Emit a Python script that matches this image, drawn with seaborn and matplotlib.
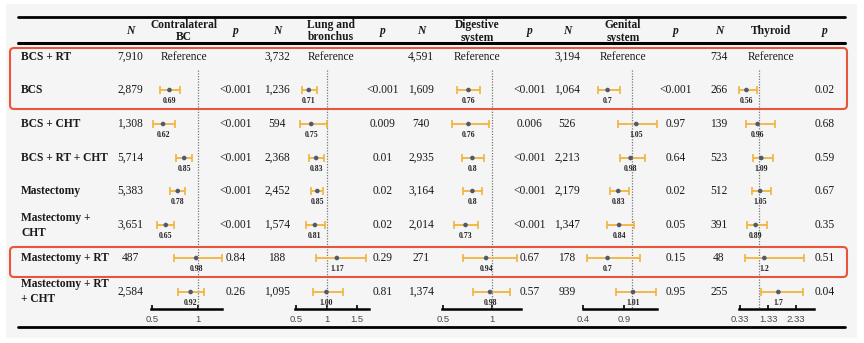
import matplotlib
matplotlib.use("Agg")
import matplotlib.pyplot as plt
import seaborn as sns
import numpy as np
import pandas as pd
from matplotlib.patches import FancyBboxPatch, Rectangle

# ---------------- data ----------------
row_labels = ["BCS + RT", "BCS", "BCS + CHT", "BCS + RT + CHT", "Mastectomy",
              "Mastectomy +\nCHT", "Mastectomy + RT", "Mastectomy + RT\n+ CHT"]
outcomes = ["Contralateral\nBC", "Lung and\nbronchus", "Digestive\nsystem",
            "Genital\nsystem", "Thyroid"]

n_cbc = ["7,910", "2,879", "1,308", "5,714", "5,383", "3,651", "487", "2,584"]
n_lung = ["3,732", "1,236", "594", "2,368", "2,452", "1,574", "188", "1,095"]
n_dig = ["4,591", "1,609", "740", "2,935", "3,164", "2,014", "271", "1,374"]
n_gen = ["3,194", "1,064", "526", "2,213", "2,179", "1,347", "178", "939"]
n_thy = ["734", "266", "139", "523", "512", "391", "48", "255"]

p_cbc = ["", "<0.001", "<0.001", "<0.001", "<0.001", "<0.001", "0.84", "0.26"]
p_lung = ["", "<0.001", "0.009", "0.01", "0.02", "0.02", "0.29", "0.81"]
p_dig = ["", "<0.001", "0.006", "<0.001", "<0.001", "<0.001", "0.67", "0.57"]
p_gen = ["", "<0.001", "0.97", "0.64", "0.02", "0.05", "0.15", "0.95"]
p_thy = ["", "0.02", "0.68", "0.59", "0.67", "0.35", "0.51", "0.04"]

# hazard ratios for rows 2..8 (row 1 is the reference)
hr_cbc = [0.69, 0.62, 0.85, 0.78, 0.65, 0.98, 0.92]
lo_cbc = [0.59, 0.51, 0.76, 0.70, 0.55, 0.74, 0.78]
hi_cbc = [0.80, 0.75, 0.93, 0.86, 0.74, 1.26, 1.07]
lab_cbc = ["0.69", "0.62", "0.85", "0.78", "0.65", "0.98", "0.92"]

hr_lung = [0.71, 0.75, 0.83, 0.85, 0.81, 1.17, 1.00]
lo_lung = [0.60, 0.57, 0.71, 0.74, 0.66, 0.83, 0.78]
hi_lung = [0.84, 1.01, 0.96, 0.94, 0.97, 1.65, 1.27]
lab_lung = ["0.71", "0.75", "0.83", "0.85", "0.81", "1.17", "1.00"]

hr_dig = [0.76, 0.76, 0.80, 0.80, 0.73, 0.94, 0.98]
lo_dig = [0.64, 0.59, 0.69, 0.70, 0.61, 0.70, 0.81]
hi_dig = [0.88, 0.97, 0.92, 0.90, 0.86, 1.26, 1.18]
lab_dig = ["0.76", "0.76", "0.8", "0.8", "0.73", "0.94", "0.98"]

hr_gen = [0.70, 1.05, 0.98, 0.83, 0.84, 0.70, 1.01]
lo_gen = [0.58, 0.83, 0.85, 0.73, 0.69, 0.45, 0.80]
hi_gen = [0.85, 1.30, 1.16, 0.96, 1.02, 1.10, 1.29]
lab_gen = ["0.7", "1.05", "0.98", "0.83", "0.84", "0.7", "1.01"]

hr_thy = [0.56, 0.96, 1.09, 1.05, 0.89, 1.20, 1.70]
lo_thy = [0.30, 0.54, 0.79, 0.76, 0.58, 0.51, 1.08]
hi_thy = [0.94, 1.58, 1.51, 1.44, 1.29, 2.62, 2.58]
lab_thy = ["0.56", "0.96", "1.09", "1.05", "0.89", "1.2", "1.7"]

ticks_cbc = [0.5, 1]; ticklab_cbc = ["0.5", "1"]
ticks_lung = [0.5, 1, 1.5]; ticklab_lung = ["0.5", "1", "1.5"]
ticks_dig = [0.5, 1]; ticklab_dig = ["0.5", "1"]
ticks_gen = [0.4, 0.9]; ticklab_gen = ["0.4", "0.9"]
ticks_thy = [0.33, 1.33, 2.33]; ticklab_thy = ["0.33", "1.33", "2.33"]
bounds_cbc = (0.49, 1.26)
bounds_lung = (0.48, 1.70)
bounds_dig = (0.49, 1.30)
bounds_gen = (0.40, 1.30)
bounds_thy = (0.31, 2.97)
ref_value = 1.0

# ---------------- style / layout ----------------
sns.set_theme(style="white")
plt.rcParams["font.family"] = ["Liberation Serif", "DejaVu Serif"]

W, H = 864, 343
fig = plt.figure(figsize=(W / 100, H / 100), dpi=100, facecolor="white")
ax0 = fig.add_axes([0, 0, 1, 1])
ax0.set_xlim(0, W)
ax0.set_ylim(H, 0)
ax0.axis("off")

ax0.add_patch(Rectangle((6, 4), 851, 334, facecolor="#f5f5f5", edgecolor="none", zorder=0))

FS = 8.3
DARK = "#1a1a1a"
row_y = [57, 90, 124, 158, 191, 225, 258, 292]

# table rules
ax0.plot([18, 845], [17, 17], color="black", lw=2.0, zorder=2)
ax0.plot([18, 845], [43, 43], color="black", lw=2.2, zorder=2)
ax0.plot([18, 845], [327, 327], color="black", lw=2.0, zorder=2)

# red highlight boxes
for (y0, y1) in [(48, 109), (247, 277)]:
    ax0.add_patch(FancyBboxPatch((10, y0), 837, y1 - y0,
                                 boxstyle="round,pad=0,rounding_size=4",
                                 facecolor="none", edgecolor="#e8553a", lw=1.5, zorder=4))

# row labels
for lab, y in zip(row_labels, row_y):
    lines = lab.split("\n")
    if len(lines) == 1:
        ax0.text(21, y, lab, ha="left", va="center", fontsize=FS, fontweight="bold", color=DARK)
    else:
        ax0.text(21, y - 7.5, lines[0], ha="left", va="center", fontsize=FS, fontweight="bold", color=DARK)
        ax0.text(21, y + 7.5, lines[1], ha="left", va="center", fontsize=FS, fontweight="bold", color=DARK)

columns = [
    dict(n=n_cbc, p=p_cbc, hr=hr_cbc, lo=lo_cbc, hi=hi_cbc, lab=lab_cbc, ticks=ticks_cbc,
         tl=ticklab_cbc, b=bounds_cbc, nx=130, fx=184, px=236, map=(152, 0.5, 198, 1.0)),
    dict(n=n_lung, p=p_lung, hr=hr_lung, lo=lo_lung, hi=hi_lung, lab=lab_lung, ticks=ticks_lung,
         tl=ticklab_lung, b=bounds_lung, nx=277, fx=331, px=383, map=(296, 0.5, 357, 1.5)),
    dict(n=n_dig, p=p_dig, hr=hr_dig, lo=lo_dig, hi=hi_dig, lab=lab_dig, ticks=ticks_dig,
         tl=ticklab_dig, b=bounds_dig, nx=421, fx=477, px=530, map=(443, 0.5, 492, 1.0)),
    dict(n=n_gen, p=p_gen, hr=hr_gen, lo=lo_gen, hi=hi_gen, lab=lab_gen, ticks=ticks_gen,
         tl=ticklab_gen, b=bounds_gen, nx=567, fx=623, px=676, map=(583, 0.4, 624, 0.9)),
    dict(n=n_thy, p=p_thy, hr=hr_thy, lo=lo_thy, hi=hi_thy, lab=lab_thy, ticks=ticks_thy,
         tl=ticklab_thy, b=bounds_thy, nx=719, fx=771, px=825, map=(740, 0.33, 796, 2.33)),
]

AX_TOP, AX_BOT = 62, 309
for col, title in zip(columns, outcomes):
    # headers
    ax0.text(col["nx"], 31, "N", ha="center", va="center", fontsize=FS, fontweight="bold",
             fontstyle="italic", color=DARK)
    ax0.text(col["px"], 31, "p", ha="center", va="center", fontsize=FS, fontweight="bold",
             fontstyle="italic", color=DARK)
    tl = title.split("\n")
    if len(tl) == 2:
        ax0.text(col["fx"], 25, tl[0], ha="center", va="center", fontsize=FS, fontweight="bold", color=DARK)
        ax0.text(col["fx"], 37.5, tl[1], ha="center", va="center", fontsize=FS, fontweight="bold", color=DARK)
    else:
        ax0.text(col["fx"], 31, title, ha="center", va="center", fontsize=FS, fontweight="bold", color=DARK)
    # N and p
    for i, y in enumerate(row_y):
        ax0.text(col["nx"], y, col["n"][i], ha="center", va="center", fontsize=FS, color=DARK)
        if col["p"][i]:
            ax0.text(col["px"], y, col["p"][i], ha="center", va="center", fontsize=FS, color=DARK)
    ax0.text(col["fx"], row_y[0], "Reference", ha="center", va="center", fontsize=FS, color=DARK)

    # forest axes: pixel -> value mapping
    pa, va_, pb, vb = col["map"]
    scale = (vb - va_) / (pb - pa)
    to_px = lambda v: pa + (v - va_) / scale
    left_px = to_px(col["b"][0]) - 10
    right_px = to_px(col["b"][1]) + 10
    ax = fig.add_axes([left_px / W, (H - AX_BOT) / H, (right_px - left_px) / W, (AX_BOT - AX_TOP) / H])
    ax.set_xlim(va_ + (left_px - pa) * scale, va_ + (right_px - pa) * scale)
    ax.set_ylim(AX_BOT, AX_TOP)
    ax.patch.set_alpha(0)

    df = pd.DataFrame({"hr": col["hr"], "lo": col["lo"], "hi": col["hi"], "y": row_y[1:], "lab": col["lab"]})
    ax.vlines(ref_value, 70, AX_BOT, colors="#777777", linestyles=(0, (1, 1.2)), lw=0.9, zorder=1)
    ax.errorbar(df["hr"], df["y"], xerr=[df["hr"] - df["lo"], df["hi"] - df["hr"]], fmt="none",
                ecolor="#f2b33d", elinewidth=1.3, capsize=2.6, capthick=1.2, zorder=2)
    sns.scatterplot(data=df, x="hr", y="y", ax=ax, color="#4d5a70", s=11, edgecolor="none",
                    legend=False, zorder=3, clip_on=False)
    for _, r in df.iterrows():
        ax.text(r["hr"], r["y"] + 11, r["lab"], ha="center", va="center", fontsize=5.6,
                fontweight="bold", color="#222222")

    for s in ["top", "left", "right"]:
        ax.spines[s].set_visible(False)
    ax.spines["bottom"].set_bounds(*col["b"])
    ax.spines["bottom"].set_linewidth(1.8)
    ax.spines["bottom"].set_color("black")
    ax.set_xticks(col["ticks"])
    ax.set_xticklabels(col["tl"], fontsize=6.8, color="#4a4a4a", family=["Liberation Sans", "DejaVu Sans"])
    ax.tick_params(axis="x", direction="in", length=3, width=1.2, color="black", pad=4, bottom=True)
    ax.set_yticks([])
    ax.set_xlabel("")
    ax.set_ylabel("")

fig.savefig("out.png", dpi=100, facecolor="white")
